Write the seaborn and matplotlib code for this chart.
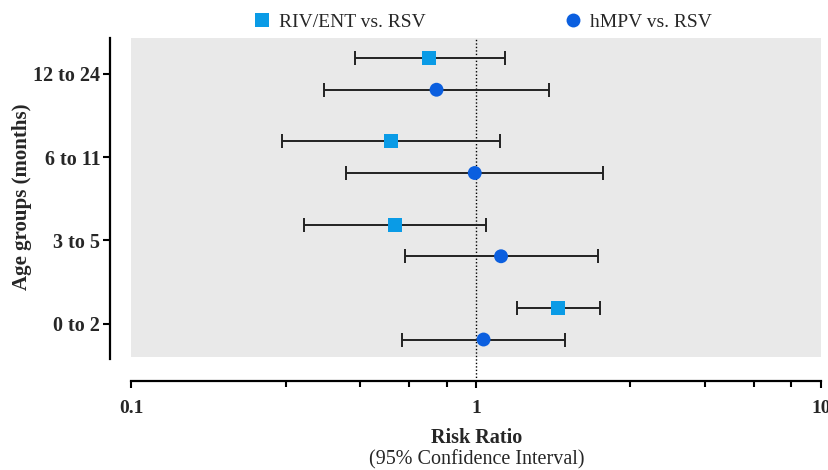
import numpy as np
import pandas as pd
import matplotlib
matplotlib.use("Agg")
import matplotlib.pyplot as plt
from matplotlib.lines import Line2D
from matplotlib.ticker import FixedLocator, NullFormatter
import seaborn as sns

# ---- data ----
age_groups = ["12 to 24", "6 to 11", "3 to 5", "0 to 2"]
series = ["RIV/ENT vs. RSV", "hMPV vs. RSV"]
riv_rr = [0.73, 0.565, 0.582, 1.73]
riv_lo = [0.445, 0.273, 0.317, 1.31]
riv_hi = [1.21, 1.17, 1.07, 2.29]
hmpv_rr = [0.767, 0.99, 1.18, 1.05]
hmpv_lo = [0.362, 0.42, 0.622, 0.611]
hmpv_hi = [1.63, 2.33, 2.26, 1.81]
x_major = [0.1, 1, 10]
x_major_labels = ["0.1", "1", "10"]

colors = {"RIV/ENT vs. RSV": "#0a9be6", "hMPV vs. RSV": "#0b5fdf"}
markers = {"RIV/ENT vs. RSV": "s", "hMPV vs. RSV": "o"}
offsets = {"RIV/ENT vs. RSV": 0.19, "hMPV vs. RSV": -0.19}

rows = []
n = len(age_groups)
for i, g in enumerate(age_groups):
    base = n - 1 - i
    rows.append(dict(group=g, series=series[0], rr=riv_rr[i], lo=riv_lo[i], hi=riv_hi[i],
                     y=base + offsets[series[0]]))
    rows.append(dict(group=g, series=series[1], rr=hmpv_rr[i], lo=hmpv_lo[i], hi=hmpv_hi[i],
                     y=base + offsets[series[1]]))
df = pd.DataFrame(rows)

sns.set_style("white")
plt.rcParams["font.family"] = ["Liberation Serif", "DejaVu Serif"]

W, H = 829, 470
fig = plt.figure(figsize=(W / 100, H / 100), dpi=100)
ax_l, ax_r, ax_t, ax_b = 131.5, 821, 37.7, 357
ax = fig.add_axes([ax_l / W, 1 - ax_b / H, (ax_r - ax_l) / W, (ax_b - ax_t) / H])
ax.set_facecolor("#e9e9e9")

ax.set_xscale("log")
ax.set_xlim(0.1, 10)
ax.set_ylim(-0.4, 3.435)

# reference line at 1
ax.axvline(1, ymin=-0.075, ymax=1, color="black", lw=1.0, ls=(0, (1, 1.5)),
           clip_on=False, zorder=1)

# error bars
ax.errorbar(df["rr"], df["y"], xerr=[df["rr"] - df["lo"], df["hi"] - df["rr"]],
            fmt="none", ecolor="#222222", elinewidth=1.4, capsize=5, capthick=1.4, zorder=2)

sns.scatterplot(data=df, x="rr", y="y", hue="series", style="series",
                palette=colors, markers=markers, s=100, linewidth=0,
                legend=False, ax=ax, zorder=3)

# spines
for s in ["top", "right"]:
    ax.spines[s].set_visible(False)
ax.spines["bottom"].set_position(("outward", 17.3))
ax.spines["left"].set_position(("outward", 15.5))
ax.spines["left"].set_bounds(-0.43, 3.435)
for s in ["bottom", "left"]:
    ax.spines[s].set_linewidth(1.6)
    ax.spines[s].set_color("black")

# ticks
ax.xaxis.set_major_locator(FixedLocator(x_major))
ax.set_xticklabels(x_major_labels, fontweight="bold", fontsize=14)
minor = []
for d in x_major[:-1]:
    minor += [d * (1 + 1.8 * k) for k in range(1, 5)]
ax.xaxis.set_minor_locator(FixedLocator(minor))
ax.xaxis.set_minor_formatter(NullFormatter())
ax.tick_params(axis="x", which="major", direction="out", length=5, width=1.5, pad=9,
               bottom=True, color="black")
ax.tick_params(axis="x", which="minor", direction="out", length=4, width=1.5,
               bottom=True, color="black")

ax.set_yticks(list(range(n - 1, -1, -1)))
ax.set_yticklabels(age_groups, fontweight="bold", fontsize=14.5)
ax.tick_params(axis="y", which="major", direction="out", length=5, width=1.5, pad=2,
               left=True, color="black")

ax.set_xlabel("Risk Ratio", fontweight="bold", fontsize=14.5, va="center")
ax.xaxis.set_label_coords((477 - ax_l) / (ax_r - ax_l), (ax_b - 438) / (ax_b - ax_t))
fig.text(477 / W, 1 - 460 / H, "(95% Confidence Interval)", fontsize=14.5,
         ha="center", va="center")
ax.set_ylabel("Age groups (months)", fontweight="bold", fontsize=15, va="center")
ax.yaxis.set_label_coords((22 - ax_l) / (ax_r - ax_l), (ax_b - 197) / (ax_b - ax_t))

# legend
for name, xpix in [(series[0], 252), (series[1], 563)]:
    h = Line2D([], [], marker=markers[name], color=colors[name], linestyle="none",
               markersize=10, markeredgewidth=0)
    fig.legend([h], [name], loc="center left", bbox_to_anchor=(xpix / W, 1 - 22 / H),
               frameon=False, fontsize=14, handlelength=1.0, handletextpad=0.4,
               borderpad=0, borderaxespad=0)

fig.savefig("out.png", dpi=100)
